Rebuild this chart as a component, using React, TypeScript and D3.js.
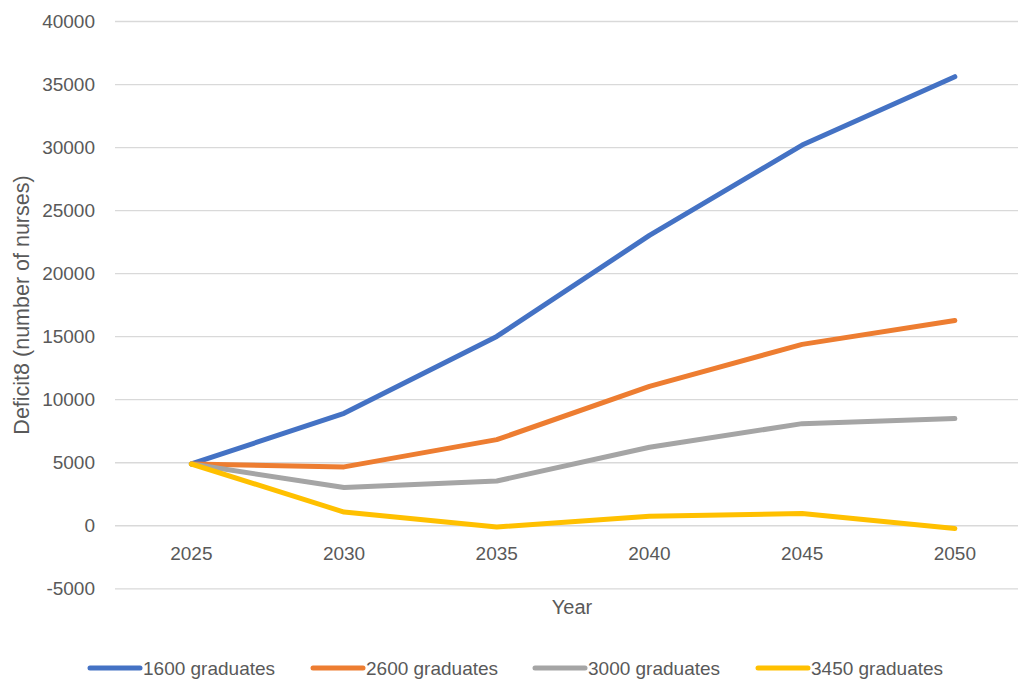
import React from "react";
import * as d3 from "d3";

const years = [2025, 2030, 2035, 2040, 2045, 2050];
const grad1600 = [4900, 8920, 15020, 23030, 30200, 35620];
const grad2600 = [4900, 4670, 6830, 11060, 14390, 16280];
const grad3000 = [4900, 3030, 3550, 6230, 8100, 8500];
const grad3450 = [4900, 1090, -100, 760, 970, -220];
const seriesNames = ["1600 graduates", "2600 graduates", "3000 graduates", "3450 graduates"];
const seriesColors = ["#4472C4", "#ED7D31", "#A5A5A5", "#FFC000"];
const yTicks = [-5000, 0, 5000, 10000, 15000, 20000, 25000, 30000, 35000, 40000];

const W = 1018;
const H = 683;
const FONT = "'Liberation Sans', Arial, sans-serif";
const TEXT = "#595959";

export default function App() {
  const seriesData = [grad1600, grad2600, grad3000, grad3450];
  const plotLeft = 115;
  const band = 152.7;
  const x = d3
    .scaleBand<number>()
    .domain(years)
    .range([plotLeft, plotLeft + band * years.length]);
  const y = d3.scaleLinear().domain([-5000, 40000]).range([588.8, 21.5]);
  const cx = (yr: number) => (x(yr) as number) + x.bandwidth() / 2;

  const line = d3
    .line<number>()
    .x((_, i) => cx(years[i]))
    .y((v) => y(v));

  const legendX = [90, 313, 535, 758];
  const legendY = 668;

  return (
    <svg
      width={W}
      height={H}
      style={{ position: "absolute", left: 0, top: 0, background: "#fff" }}
      fontFamily={FONT}
    >
      {/* horizontal gridlines */}
      {yTicks.map((t) => (
        <line
          key={"g" + t}
          x1={plotLeft}
          x2={plotLeft + band * years.length}
          y1={y(t)}
          y2={y(t)}
          stroke="#D9D9D9"
          strokeWidth={1.3}
        />
      ))}
      {/* y tick labels */}
      {yTicks.map((t) => (
        <text
          key={"t" + t}
          x={95}
          y={y(t)}
          dy="0.35em"
          textAnchor="end"
          fontSize={19}
          fill={TEXT}
        >
          {t}
        </text>
      ))}
      {/* x tick labels */}
      {years.map((yr) => (
        <text key={"x" + yr} x={cx(yr)} y={560} textAnchor="middle" fontSize={19} fill={TEXT}>
          {yr}
        </text>
      ))}
      {/* axis titles */}
      <text x={572} y={614} textAnchor="middle" fontSize={20} fill={TEXT}>
        Year
      </text>
      <text
        transform={`translate(29,305) rotate(-90)`}
        textAnchor="middle"
        fontSize={21.5}
        fill={TEXT}
      >
        Deficit8 (number of nurses)
      </text>
      {/* series lines */}
      {seriesData.map((vals, i) => (
        <path
          key={"s" + i}
          d={line(vals) as string}
          fill="none"
          stroke={seriesColors[i]}
          strokeWidth={5}
          strokeLinejoin="round"
          strokeLinecap="round"
        />
      ))}
      {/* legend */}
      {seriesNames.map((name, i) => (
        <g key={"l" + i}>
          <line
            x1={legendX[i]}
            x2={legendX[i] + 50}
            y1={legendY}
            y2={legendY}
            stroke={seriesColors[i]}
            strokeWidth={5}
            strokeLinecap="round"
          />
          <text x={legendX[i] + 53} y={legendY} dy="0.35em" fontSize={19} fill={TEXT}>
            {name}
          </text>
        </g>
      ))}
    </svg>
  );
}
